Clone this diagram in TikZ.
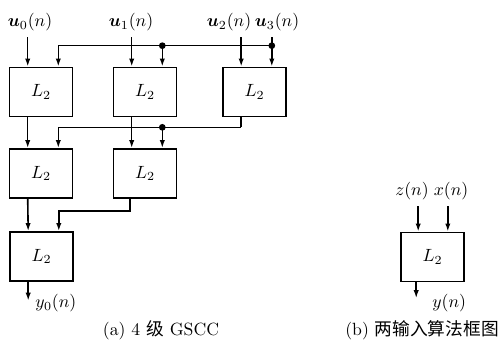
\documentclass[tikz,border=0pt]{standalone}
\usepackage{amsmath,amsbsy}
\usepackage{fontspec}
\newfontfamily\cjk{Noto Sans CJK SC}
\usetikzlibrary{arrows.meta,calc}
\tikzset{
  blk/.style={draw, line width=0.9pt, minimum width=35.6pt, minimum height=27.7pt, inner sep=0pt},
  arr/.style={line width=0.9pt, -{Latex[length=4.6pt,width=3pt]}},
  wire/.style={line width=0.9pt},
  dot/.style={circle, fill, inner sep=0pt, minimum size=3.8pt},
  lbl/.style={inner sep=3.3pt}
}
\begin{document}
\begin{tikzpicture}[x=0.565pt,y=-0.565pt]
\useasboundingbox (0,0) rectangle (503,343);

% ---- (a) four-stage GSCC ----
\node[blk] (a1) at (41,92)    {$L_2$};
\node[blk] (a2) at (145,92)   {$L_2$};
\node[blk] (a3) at (254.5,92) {$L_2$};
\node[blk] (b1) at (41,173.5) {$L_2$};
\node[blk] (b2) at (145,173.5){$L_2$};
\node[blk] (c1) at (41.5,256.5){$L_2$};

% input ports (left and right) of each block
\foreach \n in {a1,a2,a3,b1,b2,c1}{
  \coordinate (\n i) at ($(\n.north west)+(19,0)$);
  \coordinate (\n j) at ($(\n.north east)+(-15,0)$);
}

% input signals
\node[lbl] (u0) at (30,22)  {$\boldsymbol{u}_0(n)$};
\node[lbl] (u1) at (131,22) {$\boldsymbol{u}_1(n)$};
\node[lbl] (u2) at (229,22) {$\boldsymbol{u}_2(n)$};
\node[lbl] (u3) at (277,22) {$\boldsymbol{u}_3(n)$};

\draw[arr] (a1i |- u0.south) -- (a1i);
\draw[arr] (a2i |- u1.south) -- (a2i);
\draw[arr] (a3i |- u2.south) -- (a3i);
\draw[arr] (a3j |- u3.south) -- (a3j);

% first bus: u3 shared with the other blocks
\coordinate (t3) at ($(a3j)+(0,-21)$);
\coordinate (t2) at (a2j |- t3);
\draw[arr] (t3) -| (a1j);
\draw[arr] (t2) -- (a2j);
\node[dot] at (t3) {};
\node[dot] at (t2) {};

% stage 1 -> stage 2
\draw[arr] (a1.south -| a1i) -- (b1i);
\draw[arr] (a2.south -| a2i) -- (b2i);
\coordinate (s3) at ($(a3.south -| a3i)+(0,10)$);
\coordinate (s2) at (b2j |- s3);
\draw[wire] (a3.south -| a3i) -- (s3);
\draw[arr] (s3) -| (b1j);
\draw[arr] (s2) -- (b2j);
\node[dot] at (s2) {};

% stage 2 -> stage 3
\draw[arr] (b1.south -| b1i) -- (c1i);
\coordinate (r2) at ($(b2.south -| 130,0)+(0,12)$);
\draw[arr] (b2.south -| 130,0) -- (r2) -| (c1j);

% output
\coordinate (y0) at ($(c1.south -| c1i)+(0,19)$);
\draw[arr] (c1.south -| c1i) -- (y0);
\node[anchor=west, inner sep=0pt] (y0l) at (35,303) {$y_0(n)$};

\node (capa) at (161,330) {(a) 4 {\cjk 级} GSCC};

% ---- (b) two-input block ----
\node[blk] (d) at (432.5,257) {$L_2$};
\coordinate (di) at ($(d.north west)+(18,0)$);
\coordinate (dj) at ($(d.north east)+(-17,0)$);
\node[lbl] (z) at (412,191) {$z(n)$};
\node[lbl] (x) at (451,191) {$x(n)$};
\draw[arr] (di |- z.south) -- (di);
\draw[arr] (dj |- x.south) -- (dj);
\coordinate (yo) at ($(d.south west)+(16,16)$);
\draw[arr] (d.south -| yo) -- (yo);
\node[anchor=west, inner sep=0pt] (yl) at (432,303) {$y(n)$};

\node (capb) at (422,330) {(b) {\cjk 两输入算法框图}};
\end{tikzpicture}
\end{document}
